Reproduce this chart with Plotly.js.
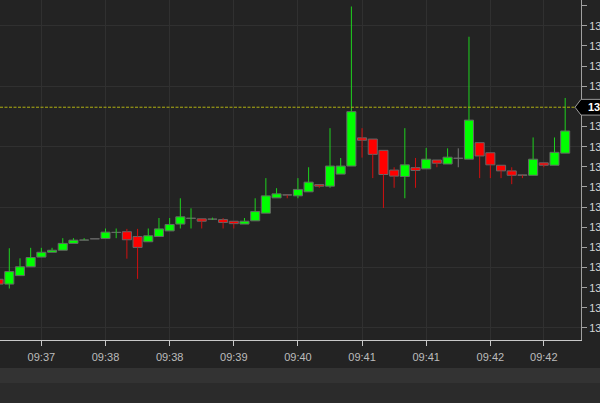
<!DOCTYPE html>
<html><head><meta charset="utf-8">
<script src="https://cdn.plot.ly/plotly-3.0.1.min.js"></script>
<style>html,body{margin:0;padding:0;background:#232323;overflow:hidden}#chart{width:600px;height:403px}</style>
</head><body><div id="chart"></div>
<script>
const candleIdx = [0,1,2,3,4,5,6,7,8,9,10,11,12,13,14,15,16,17,18,19,20,21,22,23,24,25,26,27,28,29,30,31,32,33,34,35,36,37,38,39,40,41,42,43,44,45,46,47,48,49,50,51,52,53];
const opens  = [131.321,131.309,131.330,131.352,131.376,131.388,131.393,131.410,131.418,131.421,131.422,131.437,131.439,131.427,131.414,131.427,131.441,131.458,131.472,131.471,131.470,131.469,131.465,131.458,131.466,131.485,131.523,131.5303,131.528,131.538,131.556,131.552,131.582,131.602,131.672,131.669,131.641,131.592,131.576,131.598,131.595,131.617,131.607,131.621,131.619,131.660,131.635,131.604,131.590,131.580,131.579,131.610,131.604,131.634];
const highs  = [131.321,131.398,131.373,131.399,131.399,131.399,131.423,131.423,131.423,131.421,131.447,131.447,131.446,131.446,131.447,131.473,131.473,131.522,131.497,131.471,131.474,131.473,131.465,131.473,131.522,131.572,131.547,131.5303,131.572,131.599,131.556,131.696,131.622,131.998,131.696,131.669,131.641,131.599,131.696,131.622,131.647,131.617,131.646,131.646,131.923,131.660,131.635,131.604,131.599,131.580,131.673,131.610,131.673,131.771];
const lows   = [131.309,131.298,131.330,131.352,131.376,131.388,131.393,131.410,131.418,131.421,131.422,131.423,131.372,131.322,131.414,131.427,131.441,131.447,131.447,131.447,131.468,131.447,131.447,131.458,131.466,131.485,131.523,131.522,131.522,131.538,131.548,131.548,131.582,131.602,131.623,131.572,131.498,131.548,131.522,131.548,131.595,131.599,131.607,131.599,131.619,131.572,131.572,131.572,131.557,131.572,131.579,131.599,131.604,131.634];
const closes = [131.309,131.340,131.352,131.375,131.388,131.393,131.410,131.418,131.4183,131.421,131.438,131.4373,131.419,131.400,131.429,131.446,131.457,131.476,131.4723,131.465,131.4703,131.462,131.459,131.465,131.489,131.528,131.533,131.530,131.544,131.562,131.552,131.602,131.602,131.737,131.666,131.631,131.581,131.577,131.605,131.591,131.619,131.609,131.624,131.621,131.716,131.627,131.605,131.590,131.579,131.579,131.619,131.604,131.636,131.689];
const tickIdx = [4,10,16,22,28,34,40,46,51];
const tickLabels = ['09:37','09:38','09:38','09:39','09:40','09:41','09:41','09:42','09:42'];
const priceLine = 131.748;

const UP='#00ff00', DN='#ff0000', FLAT='#6a6a6a';
const WUP='#1ed21e', WDN='#d01010', WFLAT='#7a7a7a';
const dir = closes.map((c,i)=> c>opens[i]?1:(c<opens[i]?-1:0));
const bodyColor = dir.map(d=> d>0?UP:(d<0?DN:FLAT));
const base = closes.map((c,i)=>Math.min(c,opens[i]));
const hgt = closes.map((c,i)=>Math.max(Math.abs(c-opens[i]),0.0006));

function wicks(d){
  const x=[],y=[];
  candleIdx.forEach((i)=>{
    if(dir[i]!==d) return;
    const top=base[i]+hgt[i], bot=base[i];
    if(highs[i]>top){x.push(i,i,null);y.push(top,highs[i],null);}
    if(lows[i]<bot){x.push(i,i,null);y.push(bot,lows[i],null);}
  });
  return {x,y};
}
const wu=wicks(1), wd=wicks(-1), wf=wicks(0);

const yr=[131.1702,132.01415];
const traces=[
  {type:'scatter',mode:'lines',x:wu.x,y:wu.y,line:{color:WUP,width:1},hoverinfo:'skip'},
  {type:'scatter',mode:'lines',x:wd.x,y:wd.y,line:{color:WDN,width:1},hoverinfo:'skip'},
  {type:'scatter',mode:'lines',x:wf.x,y:wf.y,line:{color:WFLAT,width:1},hoverinfo:'skip'},
  {type:'bar',x:candleIdx,y:hgt,base:base,width:0.85,marker:{color:bodyColor,line:{color:'#666666',width:1}},hoverinfo:'skip'},
  {type:'scatter',x:[],y:[],yaxis:'y2',hoverinfo:'skip'}
];
const dy=0.0195;
const font={family:'Liberation Sans, Arial, sans-serif',size:11,color:'#bcbcbc'};
const layout={
  width:600,height:403,margin:{l:0,r:19,t:0,b:63,pad:0},
  paper_bgcolor:'#232323',plot_bgcolor:'#232323',showlegend:false,barmode:'overlay',
  xaxis:{range:[0.13,54.48],tickmode:'array',tickvals:tickIdx,ticktext:tickLabels,showgrid:true,gridcolor:'#303030',gridwidth:1,
    zeroline:false,showline:true,linecolor:'#c8c8c8',linewidth:1,ticks:'outside',ticklen:5,tickcolor:'#c8c8c8',tickfont:font,ticklabelstandoff:2,fixedrange:true},
  yaxis:{range:yr,side:'right',tick0:131.20,dtick:0.15,showgrid:true,gridcolor:'#303030',gridwidth:1,showticklabels:false,ticks:'',zeroline:false,showline:false,fixedrange:true},
  yaxis2:{range:yr,overlaying:'y',side:'right',tick0:131.20,dtick:0.05,tickformat:'.2f',ticks:'outside',ticklen:5,tickcolor:'#a0a0a0',
    showline:true,linecolor:'#a0a0a0',linewidth:1,showgrid:false,zeroline:false,tickfont:{family:'Liberation Sans, Arial, sans-serif',size:11,color:'#d4d4d4'},fixedrange:true},
  shapes:[
    {type:'rect',xref:'paper',yref:'paper',x0:-0.01,x1:1.05,y0:-0.0824,y1:-0.1265,fillcolor:'#333333',line:{width:0}},
    {type:'rect',xref:'paper',yref:'paper',x0:-0.01,x1:1.05,y0:-0.1265,y1:-0.2,fillcolor:'#2b2b2b',line:{width:0}},
    {type:'line',xref:'paper',yref:'y',x0:0,x1:0.9897,y0:priceLine,y1:priceLine,line:{color:'#b0b012',width:1,dash:'3px,1.5px'}},
    {type:'path',xref:'paper',yref:'y',path:`M 0.9897,${priceLine} L 1.0,${priceLine+dy} L 1.05,${priceLine+dy} L 1.05,${priceLine-dy} L 1.0,${priceLine-dy} Z`,fillcolor:'#000000',line:{color:'#9a9a9a',width:1}}
  ],
  annotations:[{xref:'paper',yref:'y',x:1.0085,y:priceLine,xanchor:'left',yanchor:'middle',showarrow:false,text:'<b>'+priceLine.toFixed(2)+'</b>',font:{family:'Liberation Sans, Arial, sans-serif',size:11,color:'#ffffff'}}]
};
Plotly.newPlot('chart',traces,layout,{staticPlot:true,displayModeBar:false});
</script></body></html>
